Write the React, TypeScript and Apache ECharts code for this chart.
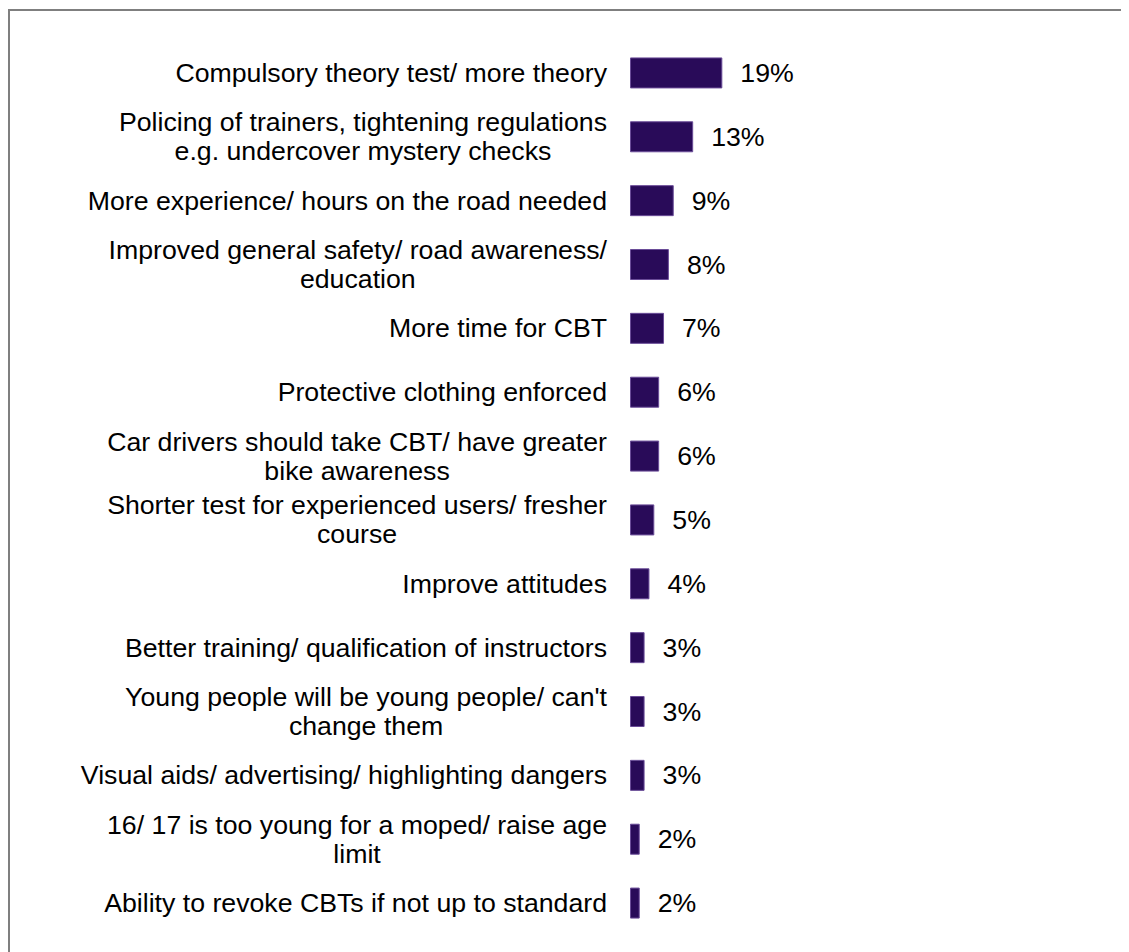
import React, { useEffect, useRef } from "react";
import * as echarts from "echarts";

const categories: string[] = [
  "Compulsory theory test/ more theory",
  "Policing of trainers, tightening regulations\ne.g. undercover mystery checks",
  "More experience/ hours on the road needed",
  "Improved general safety/ road awareness/\neducation",
  "More time for CBT",
  "Protective clothing enforced",
  "Car drivers should take CBT/ have greater\nbike awareness",
  "Shorter test for experienced users/ fresher\ncourse",
  "Improve attitudes",
  "Better training/ qualification of instructors",
  "Young people will be young people/ can't\nchange them",
  "Visual aids/ advertising/ highlighting dangers",
  "16/ 17 is too young for a moped/ raise age\nlimit",
  "Ability to revoke CBTs if not up to standard",
];

const values: number[] = [19, 13, 9, 8, 7, 6, 6, 5, 4, 3, 3, 3, 2, 2];

const FONT = "Arial, 'Liberation Sans', sans-serif";
const FS = 26.7;

export default function App() {
  const ref = useRef<HTMLDivElement>(null);
  useEffect(() => {
    if (!ref.current) return;
    const chart = echarts.init(ref.current, null, { renderer: "svg" });
    chart.setOption({
      animation: false,
      backgroundColor: "#ffffff",
      graphic: [
        {
          type: "rect",
          shape: { x: 1, y: 2, width: 3000, height: 3000 },
          style: { fill: "none", stroke: "#7f7f7f", lineWidth: 2 },
          silent: true,
        },
      ],
      grid: { left: 622, top: 33, width: 486, bottom: 17, containLabel: false },
      xAxis: {
        type: "value",
        min: 0,
        max: 100,
        show: false,
      },
      yAxis: {
        type: "category",
        data: categories,
        inverse: true,
        axisLine: { show: false },
        axisTick: { show: false },
        splitLine: { show: false },
        axisLabel: {
          margin: 23,
          align: "right",
          color: "#000",
          fontSize: FS,
          fontFamily: FONT,
          lineHeight: 29,
          formatter: (v: string) =>
            v
              .split("\n")
              .map((l) => `{c|${l}}`)
              .join("\n"),
          rich: {
            c: {
              align: "center",
              color: "#000",
              fontSize: FS,
              fontFamily: FONT,
              lineHeight: 29,
            },
          },
        },
      },
      series: [
        {
          type: "bar",
          data: values,
          barWidth: 31,
          itemStyle: {
            color: "#290b59",
            borderColor: "#6a4c98",
            borderWidth: 1,
          },
          label: {
            show: true,
            position: "right",
            distance: 18,
            formatter: "{c}%",
            color: "#000",
            fontSize: FS,
            fontFamily: FONT,
          },
        },
      ],
    });
    return () => chart.dispose();
  }, []);
  return <div ref={ref} style={{ width: 1121, height: 944 }} />;
}
